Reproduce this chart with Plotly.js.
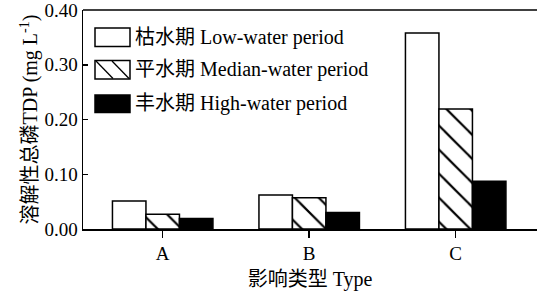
<!DOCTYPE html>
<html><head><meta charset="utf-8">
<script src="https://cdn.plot.ly/plotly-3.0.1.min.js"></script>
<style>html,body{margin:0;padding:0;background:#fff}</style>
</head><body>
<div id="chart" style="width:537px;height:291px"></div>
<script>
const categories = ['A', 'B', 'C'];
const seriesNames = ['枯水期 Low-water period', '平水期 Median-water period', '丰水期 High-water period'];
const lowWater = [0.051, 0.062, 0.358];
const medianWater = [0.027, 0.057, 0.219];
const highWater = [0.019, 0.030, 0.087];
const yTickVals = [0, 0.1, 0.2, 0.3, 0.4];
const yTickText = ['0.00', '0.10', '0.20', '0.30', '0.40'];

const FONT = 'Liberation Serif, Times New Roman, Noto Sans CJK SC, serif';
const line = {color: '#000', width: 1.5};

const traces = [
  {type: 'bar', x: categories, y: lowWater, name: seriesNames[0],
   marker: {color: '#fff', line: line}},
  {type: 'bar', x: categories, y: medianWater, name: seriesNames[1],
   marker: {color: '#fff', line: line,
     pattern: {shape: '\\', fgcolor: '#000', bgcolor: '#fff', size: 17, solidity: 0.13, fgopacity: 1, fillmode: 'overlay'}}},
  {type: 'bar', x: categories, y: highWater, name: seriesNames[2],
   marker: {color: '#000', line: line}}
];

// pixel -> paper helpers for custom legend
const L = 83, R = 537, T = 10, B = 229;
const px = v => (v - L) / (R - L);
const py = v => (B - v) / (B - T);

const shapes = [];
const annotations = [];
const sw = [[28, 46.5], [60.5, 79], [95, 112.5]];
sw.forEach((s, i) => {
  shapes.push({type: 'rect', xref: 'paper', yref: 'paper',
    x0: px(95), x1: px(130), y0: py(s[1]), y1: py(s[0]),
    line: {color: '#000', width: 1.5}, fillcolor: i === 2 ? '#000' : '#fff'});
  annotations.push({xref: 'paper', yref: 'paper', x: px(133), y: py((s[0] + s[1]) / 2),
    xanchor: 'left', yanchor: 'middle', showarrow: false, text: seriesNames[i],
    font: {family: FONT, size: 20, color: '#000'}});
});
// hatch lines for the median swatch
shapes.push({type: 'line', xref: 'paper', yref: 'paper', x0: px(96), y0: py(61), x1: px(113), y1: py(78.5), line: {color: '#000', width: 1.3}});
shapes.push({type: 'line', xref: 'paper', yref: 'paper', x0: px(112), y0: py(61), x1: px(129), y1: py(78.5), line: {color: '#000', width: 1.3}});
// top frame line
shapes.push({type: 'line', xref: 'paper', yref: 'paper', x0: 0, x1: 1, y0: 1, y1: 1, line: {color: '#000', width: 1.5}});

const layout = {
  width: 537, height: 291,
  margin: {l: L, r: 537 - R, t: T, b: 291 - B},
  paper_bgcolor: '#fff', plot_bgcolor: '#fff',
  barmode: 'group', bargap: 0.314, bargroupgap: 0,
  showlegend: false,
  font: {family: FONT, size: 19, color: '#000'},
  xaxis: {
    range: [-0.544, 2.555], showline: true, linecolor: '#000', linewidth: 1.5, mirror: false,
    ticks: 'outside', ticklen: 7, tickwidth: 1.5, tickcolor: '#000', showgrid: false, zeroline: false,
    tickfont: {family: FONT, size: 19},
    title: {text: '影响类型 Type', font: {family: FONT, size: 20}, standoff: 9}
  },
  yaxis: {
    range: [0, 0.4], tickvals: yTickVals, ticktext: yTickText,
    showline: true, linecolor: '#000', linewidth: 1.5, mirror: false,
    ticks: 'inside', ticklen: 5, tickwidth: 1.5, tickcolor: '#000', showgrid: false, zeroline: false,
    ticklabeloverflow: 'allow',
    tickfont: {family: FONT, size: 19},
    title: {text: '溶解性总磷TDP (mg L<sup>-1</sup>)', font: {family: FONT, size: 20}, standoff: 1}
  },
  shapes: shapes,
  annotations: annotations
};

Plotly.newPlot('chart', traces, layout, {displayModeBar: false, staticPlot: true});
</script>
</body></html>
